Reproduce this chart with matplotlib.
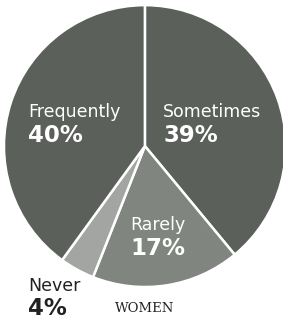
import matplotlib.pyplot as plt

# answers (women), clockwise from 12 o'clock
labels = ['Sometimes', 'Rarely', 'Never', 'Frequently']
shares = [39, 17, 4, 40]
colors = ['#5b605b', '#80857f', '#a3a5a2', '#5b605b']

# label anchors in data units (pie radius = 1)
label_pos = {'Sometimes': (0.13, 0.24, 'left'),
             'Rarely': (0.09, -0.56, 'center'),
             'Never': (-0.83, -0.99, 'left'),
             'Frequently': (-0.83, 0.24, 'left')}

fig = plt.figure(figsize=(2.83, 3.2), dpi=100)
ax = fig.add_axes([0.014, 0.103, 0.996, 0.881])
ax.pie(shares, colors=colors, startangle=90, counterclock=False,
       wedgeprops={'edgecolor': 'white', 'linewidth': 1.8})
ax.set_xlim(-1.0, 1.0)
ax.set_ylim(-1.0, 1.0)
ax.set_aspect('equal')
ax.axis('off')

for name, val in zip(labels, shares):
    x, y, ha = label_pos[name]
    c = '#222222' if name == 'Never' else 'white'
    ax.text(x, y, name, ha=ha, va='center', fontsize=12.5, color=c,
            family='DejaVu Sans')
    ax.text(x, y - 0.165, '{}%'.format(val), ha=ha, va='center', fontsize=16.5,
            fontweight='bold', color=c, family='DejaVu Sans')

ax.text(0.0, -1.15, 'WOMEN', ha='center', va='center', fontsize=9.5,
        color='#222222', family='DejaVu Serif')

fig.savefig('out.png', dpi=100)
